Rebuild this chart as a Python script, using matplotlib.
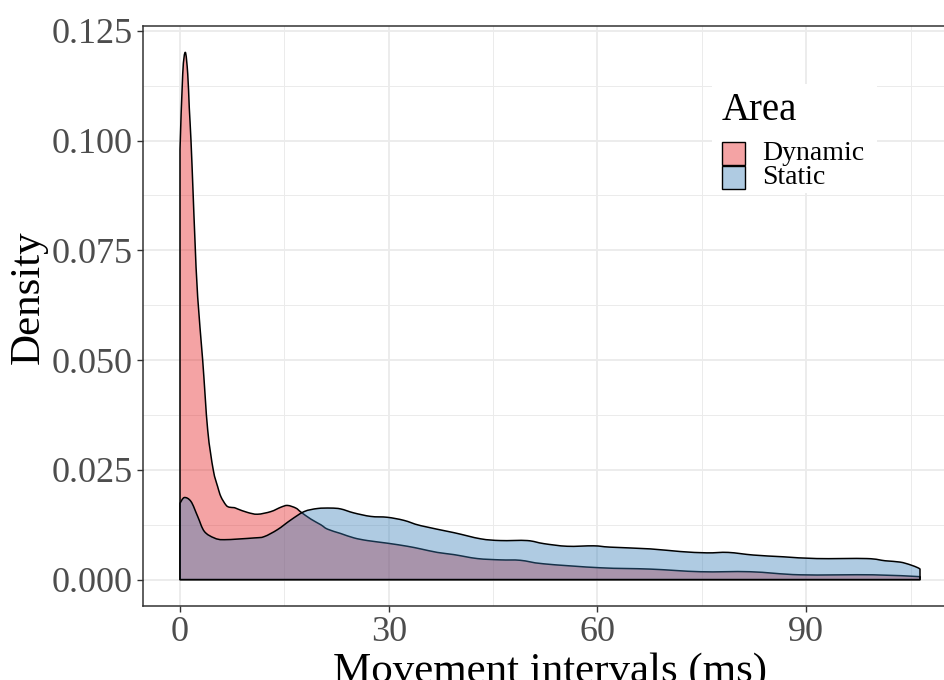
import matplotlib
matplotlib.use("Agg")
import matplotlib.pyplot as plt
from matplotlib.patches import Rectangle, PathPatch
from matplotlib.path import Path
from matplotlib.ticker import FixedLocator, FormatStrFormatter

plt.rcParams["font.family"] = ["Liberation Serif", "DejaVu Serif"]

# Kernel density estimates of movement intervals (ms), per area
dynamic_x = [0.0, 0.39, 0.76, 1.11, 1.33, 1.58, 1.87, 2.15, 2.54, 3.26, 3.98, 4.78,
             5.41, 5.88, 6.60, 7.08, 7.79, 8.28, 9.72, 11.15, 13.06, 14.50, 15.46,
             16.65, 17.37, 18.8, 20.24, 21.2, 23.11, 25.02, 26.94, 29.81, 32.68,
             34.59, 36.99, 39.37, 42.73, 46.07, 48.94, 52.29, 60.43, 67.6, 74.8,
             81.95, 89.13, 99.6, 106.07, 106.36]
dynamic_y = [0.098, 0.1152, 0.1201, 0.1152, 0.1076, 0.1000, 0.0886, 0.0773, 0.0644,
             0.0500, 0.0341, 0.0250, 0.0212, 0.0189, 0.0170, 0.0165, 0.0164, 0.0161,
             0.0153, 0.0149, 0.0155, 0.0165, 0.0169, 0.0163, 0.0154, 0.0138, 0.0125,
             0.0115, 0.0105, 0.0095, 0.0089, 0.0083, 0.0076, 0.0070, 0.0062, 0.0057,
             0.0048, 0.0045, 0.0044, 0.0036, 0.0027, 0.0024, 0.0018, 0.0018, 0.0011,
             0.0011, 0.0007, 0.0007]

static_x = [0.0, 0.62, 1.58, 2.54, 3.49, 4.92, 6.36, 10.66, 12.10, 14.02, 15.93,
            17.84, 19.76, 21.67, 23.11, 24.98, 27.42, 29.81, 32.19, 34.59, 39.37,
            43.20, 46.07, 49.91, 52.29, 55.65, 59.47, 61.86, 67.60, 71.91, 75.74,
            78.80, 82.43, 86.74, 91.53, 98.71, 101.34, 103.49, 104.92, 106.07, 106.36]
static_y = [0.0174, 0.0187, 0.0178, 0.0144, 0.0110, 0.0095, 0.0091, 0.0095, 0.0098,
            0.0114, 0.0136, 0.0155, 0.0162, 0.0163, 0.0161, 0.0152, 0.0144, 0.0142,
            0.0135, 0.0123, 0.0107, 0.0093, 0.0089, 0.0089, 0.0082, 0.0076, 0.0077,
            0.0074, 0.0070, 0.0064, 0.0061, 0.0062, 0.0056, 0.0052, 0.0048, 0.0048,
            0.0043, 0.0040, 0.0034, 0.0027, 0.0024]

areas = ["Dynamic", "Static"]
fill_colors = ["#E41A1C", "#377EB8"]
x_ticks = [0, 30, 60, 90]
y_ticks = [0.000, 0.025, 0.050, 0.075, 0.100, 0.125]


def density_path(xs, ys):
    """Closed outline: baseline, smooth Catmull-Rom curve through the points, baseline."""
    pts = list(zip(xs, ys))
    verts = [(xs[0], 0.0), pts[0]]
    codes = [Path.MOVETO, Path.LINETO]
    n = len(pts)
    for i in range(n - 1):
        p0 = pts[i - 1] if i > 0 else pts[i]
        p1 = pts[i]
        p2 = pts[i + 1]
        p3 = pts[i + 2] if i + 2 < n else pts[i + 1]
        lo, hi = p1[0], p2[0]
        c1x = min(max(p1[0] + (p2[0] - p0[0]) / 6, lo), hi)
        c2x = min(max(p2[0] - (p3[0] - p1[0]) / 6, lo), hi)
        c1 = (c1x, p1[1] + (p2[1] - p0[1]) / 6)
        c2 = (c2x, p2[1] - (p3[1] - p1[1]) / 6)
        verts += [c1, c2, p2]
        codes += [Path.CURVE4] * 3
    verts += [(xs[-1], 0.0), (xs[0], 0.0)]
    codes += [Path.LINETO, Path.CLOSEPOLY]
    return Path(verts, codes)


W, H = 945, 680
fig = plt.figure(figsize=(W / 100, H / 100), dpi=100)
# panel extends slightly beyond the right edge of the canvas
ax = fig.add_axes([143 / W, 1 - 606 / H, (957 - 143) / W, (606 - 26) / H])

series = [(dynamic_x, dynamic_y), (static_x, static_y)]
for (xs, ys), col in zip(series, fill_colors):
    ax.add_patch(PathPatch(density_path(xs, ys),
                           facecolor=matplotlib.colors.to_rgba(col, 0.4),
                           edgecolor="black", linewidth=1.1, zorder=3,
                           joinstyle="round"))

xmax_data = max(max(dynamic_x), max(static_x))
ymax_data = max(max(dynamic_y), max(static_y))
ax.set_xlim(-0.05 * xmax_data, 1.05 * xmax_data)
ax.set_ylim(-0.05 * ymax_data, 1.05 * ymax_data)

ax.xaxis.set_major_locator(FixedLocator(x_ticks))
ax.yaxis.set_major_locator(FixedLocator(y_ticks))
ax.xaxis.set_minor_locator(FixedLocator([15, 45, 75, 105]))
ax.yaxis.set_minor_locator(FixedLocator([0.0125, 0.0375, 0.0625, 0.0875, 0.1125]))
ax.yaxis.set_major_formatter(FormatStrFormatter("%.3f"))

ax.grid(which="major", color="#EBEBEB", linewidth=1.3, zorder=0)
ax.grid(which="minor", color="#EBEBEB", linewidth=0.7, zorder=0)
ax.set_axisbelow(True)

for sp in ax.spines.values():
    sp.set_color("#333333")
    sp.set_linewidth(1.1)

ax.tick_params(which="major", length=4.5, width=1.0, color="#333333",
               labelsize=26, labelcolor="#4D4D4D", pad=3)
ax.tick_params(which="minor", length=0)

ax.set_xlabel("Movement intervals (ms)", fontsize=31, labelpad=2)
ax.set_ylabel("Density", fontsize=31)
# y title sits a little above the panel centre
ax.yaxis.set_label_coords(-0.117, 0.533)


def fx(p):
    return p / W


def fy(p):
    return 1 - p / H


# legend drawn in figure pixels
fig.patches.append(Rectangle((fx(712), fy(193)), fx(877) - fx(712), fy(84) - fy(193),
                             transform=fig.transFigure, facecolor="white",
                             edgecolor="none", zorder=5))
fig.text(fx(722), fy(110), "Area", fontsize=28, ha="left", va="center", zorder=6)
key_tops = [142, 165.5]
for name, col, top in zip(areas, fill_colors, key_tops):
    fig.patches.append(Rectangle((fx(722), fy(top + 23)), 23 / W, 23 / H,
                                 transform=fig.transFigure,
                                 facecolor=matplotlib.colors.to_rgba(col, 0.4),
                                 edgecolor="black", linewidth=1.0, zorder=6))
    fig.text(fx(762), fy(top + 11.5), name, fontsize=20, ha="left", va="center",
             zorder=6)

fig.savefig("out.png", dpi=100)
